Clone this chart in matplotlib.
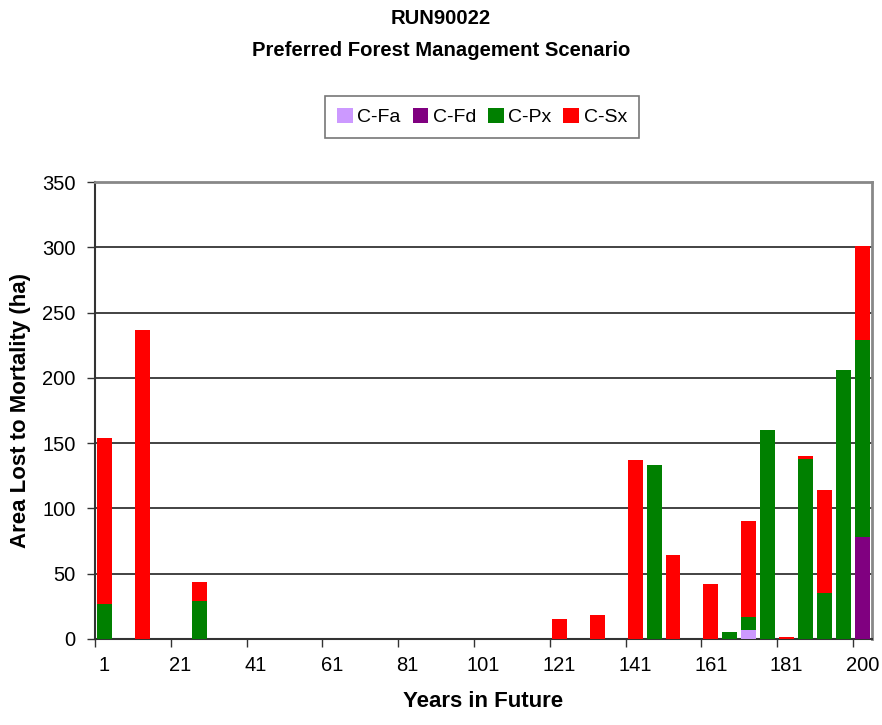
import matplotlib
matplotlib.use("Agg")
import matplotlib.pyplot as plt
import numpy as np

plt.rcParams['font.family'] = ['Liberation Sans', 'DejaVu Sans']

years = [1, 6, 11, 16, 21, 26, 31, 36, 41, 46, 51, 56, 61, 66, 71, 76, 81, 86,
         91, 96, 101, 106, 111, 116, 121, 126, 131, 136, 141, 146, 151, 156,
         161, 166, 171, 176, 181, 186, 191, 196, 200]

c_fa = [0] * 34 + [7, 0, 0, 0, 0, 0, 0]
c_fd = [0] * 40 + [78]
c_px = [27, 0, 0, 0, 0, 29, 0, 0, 0, 0, 0, 0, 0, 0, 0, 0, 0, 0, 0, 0,
        0, 0, 0, 0, 0, 0, 0, 0, 0, 133, 0, 0, 0, 5, 10, 160, 0, 138, 35, 206, 151]
c_sx = [127, 0, 237, 0, 0, 15, 0, 0, 0, 0, 0, 0, 0, 0, 0, 0, 0, 0, 0, 0,
        0, 0, 0, 0, 15, 0, 18, 0, 137, 0, 64, 0, 42, 0, 73, 0, 1.3, 2.5, 79, 0, 72]

series = [("C-Fa", c_fa, "#CC99FF"), ("C-Fd", c_fd, "#800080"),
          ("C-Px", c_px, "#008000"), ("C-Sx", c_sx, "#FF0000")]

yticks = [0, 50, 100, 150, 200, 250, 300, 350]

fig = plt.figure(figsize=(8.82, 7.25), dpi=100)
ax = fig.add_axes([95/882, 1-639/725, (872-95)/882, (639-182)/725])

x = np.arange(len(years))
bottom = np.zeros(len(years))
handles = []
for name, vals, col in series:
    v = np.array(vals, dtype=float)
    h = ax.bar(x, v, width=0.79, bottom=bottom, color=col, label=name,
               linewidth=0, zorder=3)
    handles.append(h)
    bottom += v

ax.set_xlim(-0.5, len(years) - 0.5)
ax.set_ylim(0, 350)
ax.set_yticks(yticks)
ax.set_yticklabels([str(t) for t in yticks], fontsize=14.5)
ax.yaxis.grid(True, color='#222222', linewidth=1.2, zorder=1)
ax.set_axisbelow(True)

lab_idx = list(range(0, len(years), 4))
ax.set_xticks(lab_idx)
ax.set_xticklabels([str(years[i]) for i in lab_idx], fontsize=14.5)
ax.tick_params(axis='x', which='major', length=0, pad=12)
ax.set_xticks([i - 0.5 for i in lab_idx], minor=True)
ax.tick_params(axis='x', which='minor', length=6, width=1, color='#333333')
ax.tick_params(axis='y', length=6, width=1, color='#333333', pad=8)

for s in ['left', 'bottom']:
    ax.spines[s].set_color('#333333')
    ax.spines[s].set_linewidth(1.5)
for s in ['top', 'right']:
    ax.spines[s].set_color('#888888')
    ax.spines[s].set_linewidth(2)

ax.set_xlabel("Years in Future", fontsize=16, fontweight='bold', labelpad=12)
ax.set_ylabel("Area Lost to Mortality (ha)", fontsize=16, fontweight='bold', labelpad=8)

fig.text(0.5, 1 - 19/725, "RUN90022", ha='center', va='center', fontsize=14.6, fontweight='bold')
fig.text(0.5, 1 - 51/725, "Preferred Forest Management Scenario", ha='center', va='center',
         fontsize=14.6, fontweight='bold')

leg = fig.legend(handles=handles, loc='center', bbox_to_anchor=(482/882, 1 - 117/725),
                 ncol=4, fontsize=14, frameon=True, fancybox=False, edgecolor='#555555',
                 handlelength=0.8, handleheight=0.8, handletextpad=0.25, columnspacing=0.6,
                 borderpad=0.6)
leg.get_frame().set_linewidth(1.2)

fig.savefig("out.png", dpi=100)
